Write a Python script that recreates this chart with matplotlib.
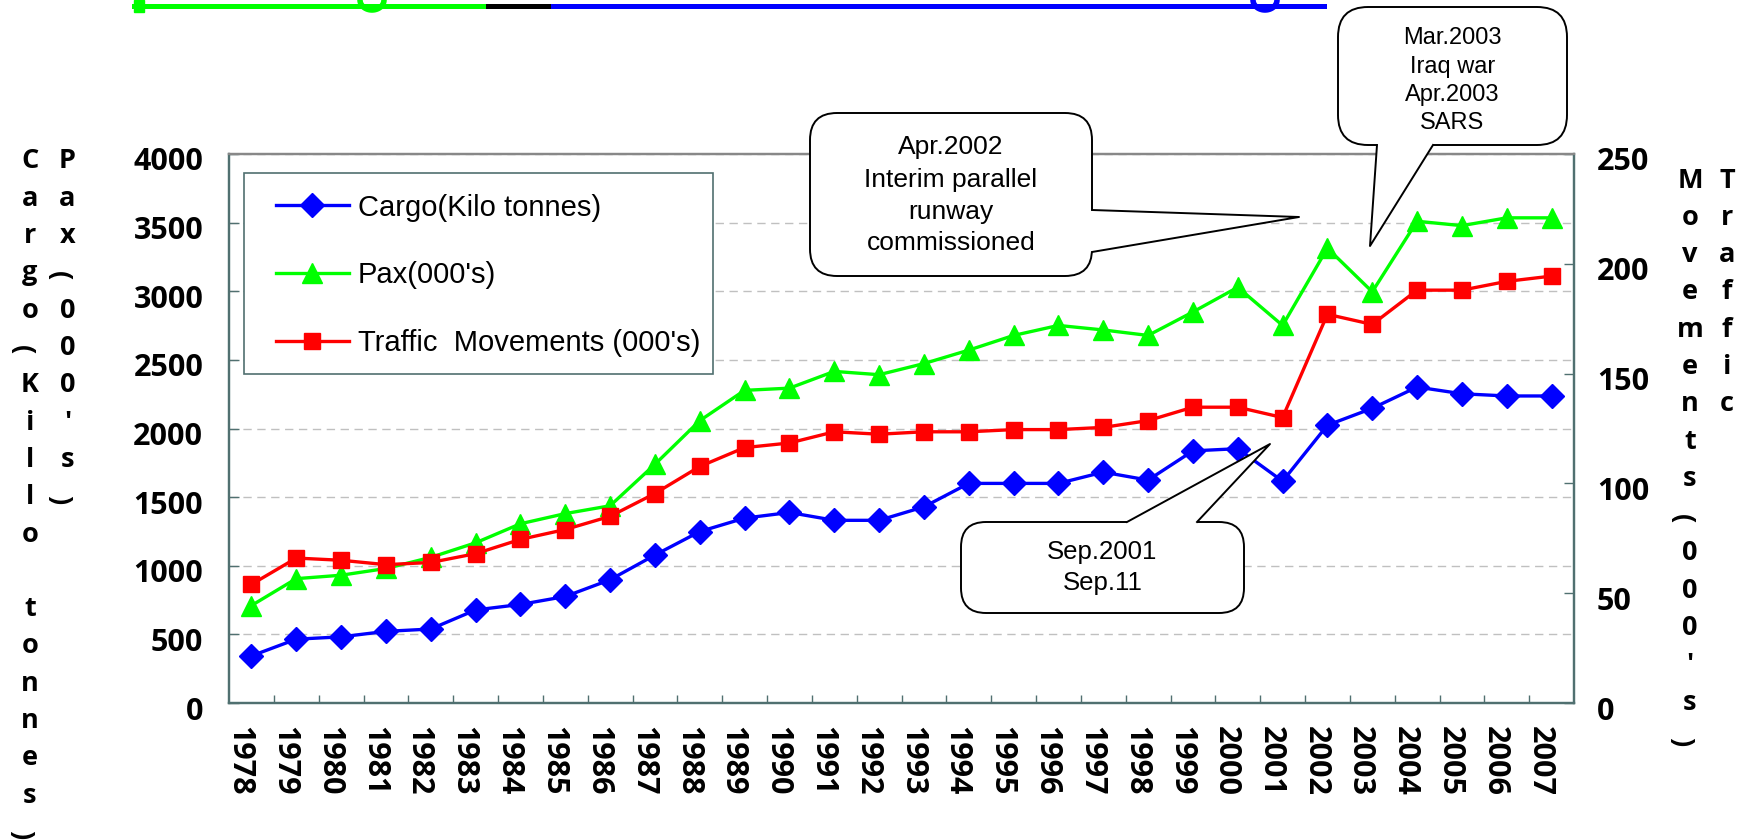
import matplotlib
matplotlib.use('Agg')
import matplotlib.pyplot as plt
import numpy as np
from matplotlib.transforms import Affine2D, ScaledTranslation
from matplotlib.patches import FancyBboxPatch, Polygon, Rectangle
from matplotlib.lines import Line2D

# ---------------- data ----------------
years = ['1978', '1979', '1980', '1981', '1982', '1983', '1984', '1985', '1986', '1987',
         '1988', '1989', '1990', '1991', '1992', '1993', '1994', '1995', '1996', '1997',
         '1998', '1999', '2000', '2001', '2002', '2003', '2004', '2005', '2006', '2007']
cargo = [343, 465, 482, 522, 539, 678, 718, 776, 898, 1078, 1249, 1347, 1388, 1331, 1331,
         1429, 1600, 1600, 1600, 1682, 1624, 1837, 1853, 1616, 2024, 2147, 2302, 2253, 2237, 2237]
pax = [710, 906, 931, 980, 1061, 1167, 1306, 1380, 1437, 1739, 2057, 2278, 2294, 2416, 2392,
       2473, 2571, 2678, 2751, 2718, 2678, 2849, 3029, 2751, 3314, 2996, 3510, 3478, 3535, 3535]
traffic = [54, 66, 65, 63, 64, 68, 74.5, 79, 85, 95.4, 107.7, 116.3, 118.4, 123.5, 122.4,
           123.5, 123.5, 124.5, 124.5, 125.5, 128.6, 134.7, 134.7, 130, 177, 172.4, 188, 188, 192, 194.4]
left_ticks = [0, 500, 1000, 1500, 2000, 2500, 3000, 3500, 4000]
right_ticks = [0, 50, 100, 150, 200, 250]
series_labels = ["Cargo(Kilo tonnes)", "Pax(000's)", "Traffic  Movements (000's)"]
left_title_1 = "Cargo(Killo tonnes)"
left_title_2 = "Pax(000's)"
right_title_1 = "Movements(000's)"
right_title_2 = "Traffic"
note_2002 = ["Apr.2002", "Interim parallel", "runway", "commissioned"]
note_2003 = ["Mar.2003", "Iraq war", "Apr.2003", "SARS"]
note_2001 = ["Sep.2001", "Sep.11"]

# ---------------- figure ----------------
W, H = 1752, 840
fig = plt.figure(figsize=(W / 100, H / 100), dpi=100)
pix = Affine2D().scale(1.0 / W, -1.0 / H).translate(0, 1) + fig.transFigure

L, R, T, B = 229, 1574, 154, 703
ax = fig.add_axes([L / W, 1 - B / H, (R - L) / W, (B - T) / H])
ax2 = ax.twinx()

x = np.arange(len(years))
ax.set_xlim(-0.5, len(years) - 0.5)
ax.set_ylim(0, 4000)
ax2.set_ylim(0, 250)

l1, = ax.plot(x, cargo, color='#0000ff', lw=2.4, marker='D', ms=12, zorder=3)
l2, = ax.plot(x, pax, color='#00ff00', lw=2.4, marker='^', ms=14, zorder=3)
l3, = ax2.plot(x, traffic, color='#ff0000', lw=2.4, marker='s', ms=11, zorder=3)

ax.set_yticks(left_ticks)
ax.grid(axis='y', color='#c0c0c0', ls=(0, (6, 4)), lw=1)
ax.set_axisbelow(True)
ax2.set_yticks(right_ticks)

spine_c = '#507070'
for a in (ax, ax2):
    for s in ['left', 'right', 'bottom']:
        a.spines[s].set_color(spine_c)
        a.spines[s].set_linewidth(1.6)
    a.spines['top'].set_color('#888888')
    a.spines['top'].set_linewidth(1.6)

ax.tick_params(axis='y', direction='in', length=7, width=1, color=spine_c, pad=18.5, labelsize=22)
ax2.tick_params(axis='y', direction='in', length=7, width=1, color=spine_c, pad=16.5, labelsize=22)
ax.set_xticks(x)
ax.set_xticklabels(years, rotation=-90, ha='center', va='top')
ax.set_xticks(np.arange(0.5, len(years) - 1, 1), minor=True)
ax.tick_params(axis='x', which='major', length=0, pad=16.5, labelsize=22)
ax.tick_params(axis='x', which='minor', direction='in', length=6, width=1, color=spine_c)

xoff = ScaledTranslation(-12 / 100, 0, fig.dpi_scale_trans)
yoff = ScaledTranslation(0, -5 / 100, fig.dpi_scale_trans)
for lbl in ax.get_xticklabels():
    lbl.set_family('Open Sans'); lbl.set_fontweight('bold')
    lbl.set_transform(lbl.get_transform() + xoff)
for lbl in ax.get_yticklabels() + ax2.get_yticklabels():
    lbl.set_family('Open Sans'); lbl.set_fontweight('bold')
    lbl.set_transform(lbl.get_transform() + yoff)

# legend
ax2.add_patch(Rectangle((244, 173), 469, 201, transform=pix, fc='white', ec=spine_c,
                        lw=1.2, zorder=4, clip_on=False))
leg = ax2.legend([l1, l2, l3], series_labels, loc='upper left', bbox_to_anchor=(276, 193.5),
                 bbox_transform=pix, frameon=False, borderpad=0, borderaxespad=0,
                 prop={'family': 'Liberation Sans', 'size': 21}, handlelength=2.5,
                 handletextpad=0.31, labelspacing=1.36, numpoints=1)
leg.set_zorder(5)

# vertical axis titles (one character per line)
pitch = 37.3
def vcolumn(text, xc, base0):
    k = 0
    for ch in text:
        yb = base0 + pitch * k
        if ch in '()':
            fig.text((xc - 8.5) / W, 1 - (yb - 5) / H, ch, rotation=-90, rotation_mode='anchor',
                     ha='center', va='center', fontsize=19.5, fontweight='bold', family='Open Sans')
        elif ch != ' ':
            fig.text(xc / W, 1 - yb / H, ch, ha='center', va='baseline',
                     fontsize=19.5, fontweight='bold', family='Open Sans')
        k += 1

vcolumn(left_title_1, 30, 168.5)
vcolumn(left_title_2, 67.5, 168.5)
vcolumn(right_title_1, 1690, 187.5)
vcolumn(right_title_2, 1727, 187.5)

# callouts
def callout(x0, y0, x1, y1, r, b1, b2, inner, tip, lines, ys, fs):
    box = FancyBboxPatch((x0, y0), x1 - x0, y1 - y0, boxstyle=f"round,pad=0,rounding_size={r}",
                         transform=pix, fc='white', ec='black', lw=1.4, zorder=10)
    fig.add_artist(box)
    wedge = Polygon([inner[0], b1, tip, b2, inner[1]], closed=True, transform=pix,
                    fc='white', ec='none', zorder=11)
    fig.add_artist(wedge)
    fig.add_artist(Line2D([b1[0], tip[0], b2[0]], [b1[1], tip[1], b2[1]], color='black',
                          lw=1.4, transform=pix, zorder=12))
    xc = (x0 + x1) / 2
    for s, yy in zip(lines, ys):
        fig.text(xc / W, 1 - yy / H, s, ha='center', va='center', fontsize=fs,
                 family='Liberation Sans', zorder=13)

callout(810, 113, 1092, 276, 27, (1092, 210), (1092, 252), [(1084, 210), (1084, 252)],
        (1299, 217), note_2002, [147, 180, 212, 243], 19)
callout(1338, 7, 1567, 145, 30, (1377, 145), (1433, 145), [(1377, 137), (1433, 137)],
        (1370, 246), note_2003, [38, 67, 95, 123], 17)
callout(961, 522, 1244, 613, 25, (1127, 522), (1197, 522), [(1127, 530), (1197, 530)],
        (1270, 444), note_2001, [552, 583], 18.5)

# cut-off title remnants at the very top
fig.add_artist(Line2D([134, 488], [6, 6], color='#00ff00', lw=3.6, transform=pix))
fig.add_artist(Line2D([488, 553], [6, 6], color='#000000', lw=3.6, transform=pix))
fig.add_artist(Line2D([553, 1324], [6, 6], color='#0000ff', lw=3.6, transform=pix))
fig.add_artist(Rectangle((134, 0), 10, 12, transform=pix, color='#00ff00'))
t = np.linspace(0, np.pi, 30)
fig.add_artist(Line2D(372 + 12 * np.cos(t), 0 + 10 * np.sin(t), color='#00ff00', lw=4, transform=pix))
fig.add_artist(Line2D(1265 + 12 * np.cos(t), 0 + 10 * np.sin(t), color='#0000ff', lw=4, transform=pix))

fig.savefig('out.png', dpi=100)
